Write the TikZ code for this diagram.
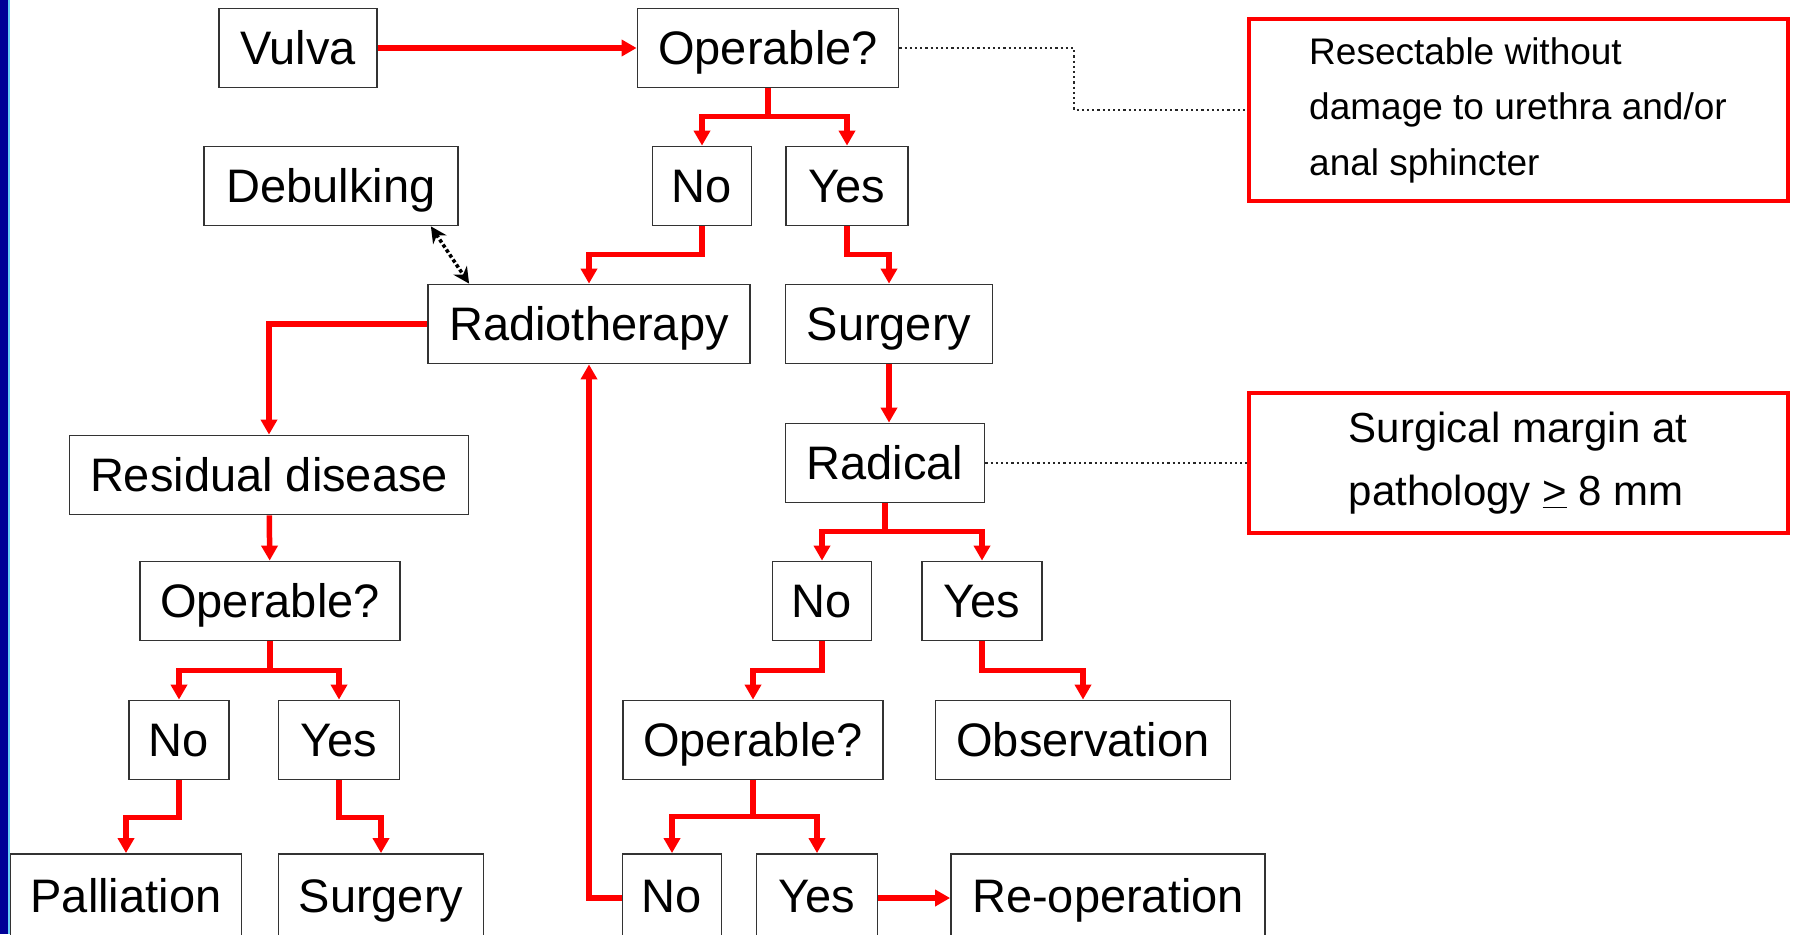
\documentclass[tikz,border=0pt]{standalone}
\usepackage{fontspec}
\setmainfont{Liberation Sans}
\usetikzlibrary{arrows.meta, positioning}
\definecolor{slideblue}{RGB}{0,0,150}
\tikzset{
  stepbox/.style={draw=black!80, line width=1.8pt, minimum height=79pt, inner sep=0pt,
    text height=36pt, text depth=3pt, font=\fontsize{47}{56}\selectfont},
  lastbox/.style={stepbox, minimum height=84pt},
  notebox/.style={draw=red, line width=4pt, inner sep=0pt, align=left, minimum width=539pt},
  flow/.style={red, line width=5.5pt, -{Triangle[width=16pt,length=15pt]}},
  hint/.style={black!85, line width=2.2pt, dash pattern=on 2.2pt off 3pt},
  swap/.style={black, line width=3.5pt, dash pattern=on 3.5pt off 2.5pt,
    {Stealth[width=16pt,length=16pt]}-{Stealth[width=16pt,length=16pt]}}
}

\begin{document}
\begin{tikzpicture}[x=1pt,y=-1pt]
\useasboundingbox (0,0) rectangle (1795,934);
\clip (0,0) rectangle (1795,934);
\fill [white] (0,0) rectangle (1795,934);
\fill [slideblue] (0,0) rectangle (8,934);
\fill [cyan!60] (8,0) rectangle (10,934);

\node [stepbox, minimum width=158pt] (vulva)   at (298,48)  {Vulva};
\node [stepbox, minimum width=261pt] (opA)     at (768,48)  {Operable?};
\node [stepbox, minimum width=99pt]  (noA)     at (702,186) {No};
\node [stepbox, minimum width=122pt] (yesA)    at (847,186) {Yes};
\node [stepbox, minimum width=254pt] (debulk)  at (331,186) {Debulking};
\node [stepbox, minimum width=322pt] (radio)   at (589,324) {Radiotherapy};
\node [stepbox, minimum width=207pt] (surgA)   at (889,324) {Surgery};
\node [stepbox, minimum width=399pt] (resid)   at (269,475) {Residual disease};
\node [stepbox, minimum width=199pt] (radical) at (885,463) {Radical};
\node [stepbox, minimum width=260pt] (opB)     at (270,601) {Operable?};
\node [stepbox, minimum width=99pt]  (noB)     at (822,601) {No};
\node [stepbox, minimum width=120pt] (yesB)    at (982,601) {Yes};
\node [stepbox, minimum width=100pt] (noC)     at (179,740) {No};
\node [stepbox, minimum width=121pt] (yesC)    at (339,740) {Yes};
\node [stepbox, minimum width=260pt] (opC)     at (753,740) {Operable?};
\node [stepbox, minimum width=295pt] (obs)     at (1083,740) {Observation};
\node [lastbox, minimum width=231pt] (pall)    at (126,896) {Palliation};
\node [lastbox, minimum width=205pt] (surgB)   at (381,896) {Surgery};
\node [lastbox, minimum width=99pt]  (noD)     at (672,896) {No};
\node [lastbox, minimum width=121pt] (yesD)    at (817,896) {Yes};
\node [lastbox, minimum width=314pt] (reop)    at (1108,896) {Re-operation};

\node [notebox, minimum height=181pt, font=\fontsize{37}{55.5}\selectfont] (noteA) at (1518,110)
  {Resectable without\\damage to urethra and/or\\anal sphincter};
\node [notebox, minimum height=140pt, font=\fontsize{42}{63}\selectfont] (noteB) at (1518,463)
  {Surgical margin at\\pathology \underline{>} 8 mm};

\draw [flow] (vulva) -- (opA);
\draw [flow] (opA.south) -- ++(0,28) -| (noA);
\draw [flow] (opA.south) -- ++(0,28) -| (yesA);
\draw [flow] (noA.south) -- ++(0,28) -| (radio);
\draw [flow] (yesA.south) -- ++(0,28) -| (surgA);
\draw [flow] (surgA.south) -- (surgA.south |- radical.north);
\draw [flow] (radio.west) -| (resid);
\draw [flow] (resid) -- (opB);
\draw [flow] (opB.south) -- ++(0,29) -| (noC);
\draw [flow] (opB.south) -- ++(0,29) -| (yesC);
\draw [flow] (noC.south) -- ++(0,37) -| (pall);
\draw [flow] (yesC.south) -- ++(0,37) -| (surgB);
\draw [flow] (radical.south) -- ++(0,28) -| (noB);
\draw [flow] (radical.south) -- ++(0,28) -| (yesB);
\draw [flow] (noB.south) -- ++(0,29) -| (opC);
\draw [flow] (yesB.south) -- ++(0,29) -| (obs);
\draw [flow] (opC.south) -- ++(0,36) -| (noD);
\draw [flow] (opC.south) -- ++(0,36) -| (yesD);
\draw [flow] ([yshift=-2pt]noD.west) -| (radio);
\draw [flow] ([yshift=-2pt]yesD.east) -- ([yshift=-2pt]reop.west);

\coordinate (bendA) at (1074,48);
\draw [hint] (opA.east) -- (bendA) |- (noteA.west);
\draw [hint] (radical) -- (noteB);
\draw [swap] ([xshift=-28pt]debulk.south east) -- ([xshift=42pt]radio.north west);
\end{tikzpicture}
\end{document}
